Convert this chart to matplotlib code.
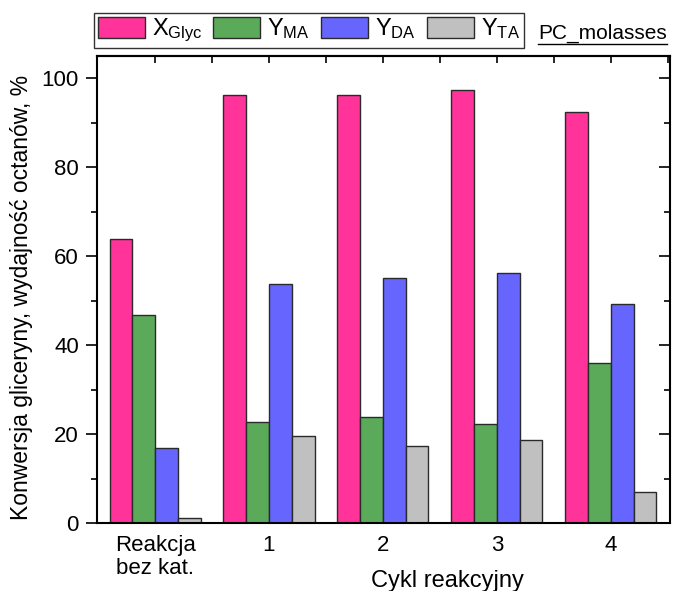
import numpy as np
import matplotlib.pyplot as plt
from matplotlib.lines import Line2D
from matplotlib.ticker import MultipleLocator

plt.rcParams['font.family'] = ['Liberation Sans', 'DejaVu Sans']
plt.rcParams['mathtext.fontset'] = 'custom'
plt.rcParams['mathtext.rm'] = 'Liberation Sans'
plt.rcParams['mathtext.it'] = 'Liberation Sans'

groups = ['Reakcja\nbez kat.', '1', '2', '3', '4']
x_glyc = [63.8, 96.2, 96.3, 97.3, 92.5]
y_ma = [46.8, 22.7, 23.8, 22.2, 36.0]
y_da = [16.8, 53.7, 55.1, 56.3, 49.3]
y_ta = [1.2, 19.6, 17.4, 18.7, 7.0]

series = [x_glyc, y_ma, y_da, y_ta]
labels = ['X$_{\\mathrm{Glyc}}$', 'Y$_{\\mathrm{MA}}$', 'Y$_{\\mathrm{DA}}$', 'Y$_{\\mathrm{TA}}$']
colors = ['#FF3399', '#5AAA5A', '#6666FF', '#C0C0C0']

fig = plt.figure(figsize=(6.73, 5.91), dpi=100)
ax = fig.add_axes([0.1441, 0.1151, 0.8514, 0.7901])

x = np.arange(len(groups))
w = 0.2
for i, (vals, lab, c) in enumerate(zip(series, labels, colors)):
    ax.bar(x + (i - 1.5) * w, vals, w, color=c, edgecolor='#2a2a2a', linewidth=1, label=lab)

ax.set_xlim(-0.51, 4.52)
ax.set_ylim(0, 105)
ax.set_xticks(x)
ax.set_xticklabels(groups, fontsize=16, linespacing=1.1)
ax.yaxis.set_major_locator(MultipleLocator(20))
ax.yaxis.set_minor_locator(MultipleLocator(10))
ax.tick_params(axis='y', which='major', direction='out', length=8, width=1.2, labelsize=16,
               right=True, pad=5)
ax.tick_params(axis='y', which='minor', direction='out', length=4, width=1.2, right=True)
ax.tick_params(axis='x', which='both', length=0, pad=9)
for s in ax.spines.values():
    s.set_linewidth(1.5)

# top axis ticks (inside) at every half group
sec = ax.secondary_xaxis('top')
sec.set_xticks(np.arange(0, 4.6, 0.5))
sec.tick_params(direction='in', length=5, width=1.2, labeltop=False)
sec.set_xticklabels([])
sec.spines['top'].set_linewidth(1.5)
# right ticks point inward
for t in ax.yaxis.get_ticklines(minor=False)[1::2]:
    t.set_marker(0)
for t in ax.yaxis.get_ticklines(minor=True)[1::2]:
    t.set_marker(0)

fig.text(0.665, 0.006, 'Cykl reakcyjny', fontsize=17, ha='center', va='baseline')
ax.set_ylabel('Konwersja gliceryny, wydajność octanów, %', fontsize=16.5)
ax.yaxis.set_label_coords(-0.112, 0.483)

leg = fig.legend(loc='upper left', bbox_to_anchor=(94 / 673, 1 - 13 / 591), ncol=4, fontsize=17,
                 frameon=True, fancybox=False, edgecolor='black', handlelength=2.0,
                 handleheight=1.0, handletextpad=0.3, columnspacing=0.45, borderpad=0.15,
                 borderaxespad=0)
leg.get_frame().set_linewidth(1.0)

t = fig.text(538 / 673, 1 - 39 / 591, 'PC_molasses', fontsize=15, ha='left', va='baseline')
fig.canvas.draw()
bb = t.get_window_extent().transformed(fig.transFigure.inverted())
fig.add_artist(Line2D([bb.x0, bb.x1], [1 - 44 / 591] * 2, color='black', lw=1.0))

fig.savefig('out.png', dpi=100)
